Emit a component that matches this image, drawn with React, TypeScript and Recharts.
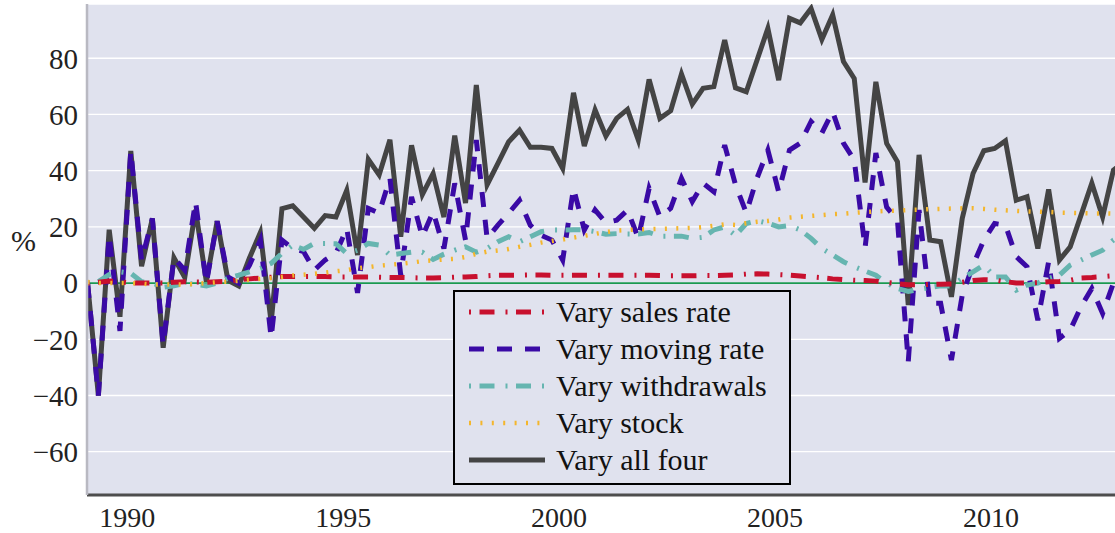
import { LineChart, Line, XAxis, YAxis, CartesianGrid, ReferenceLine, Legend } from 'recharts';

// quarterly, 1989Q1 .. 2013Q1 (plotted at mid-quarter)
const salesRate = [
  0, 0.3, 0.7, 0.5, 0, 0, 0, 0, 0.3, 0.5, 0.4, 0.3, 0.5, 0.6, 1.2, 1.5,
  1.8, 2.1, 2.3, 2.3, 2.3, 2.3, 2.3, 2.2, 2.2, 2.2, 2.2, 2.1, 2.0, 2.0, 1.9, 1.8,
  1.8, 1.9, 2.1, 2.2, 2.3, 2.6, 2.8, 2.8, 2.8, 2.9, 2.9, 2.8, 2.8, 2.8, 2.8, 2.8,
  2.8, 2.8, 2.8, 2.8, 2.8, 2.7, 2.6, 2.6, 2.6, 2.7, 2.7, 2.8, 2.9, 3.2, 3.3, 3.2,
  3.0, 2.8, 2.5, 2.2, 1.9, 1.5, 1.2, 1.0, 0.9, 0.7, 0.2, -0.2, -0.6, -0.6, -0.5, -0.4,
  -0.3, 0.3, 0.9, 1.2, 1.1, 0.5, 0, 0, 0.2, 0.5, 0.6, 1.0, 1.8, 2.0, 2.3, 2.6, 2.8,
];

const movingRate = [
  0, -40, 17, -17, 47, 8, 23, -22, 9, 4.6, 29, 0, 22, 2.2, 0, 6.4,
  15.3, -19.5, 15.3, 12.3, 11.2, 4.6, 8.2, 10.6, 19.5, -3.5, 26.6, 24.9, 37.3, 2.8, 30.7, 16.5,
  25.4, 12.3, 35.5, 15.3, 50.9, 15.9, 20.6, 24.9, 29.5, 20.6, 17, 15.3, 8.2, 33.7, 18.9, 26,
  21.5, 22.4, 26, 16, 33.7, 23.6, 26.6, 37.3, 29, 35.5, 32.5, 49.1, 35, 25, 37.4, 47.3,
  32.5, 47.3, 49.8, 57.5, 53.4, 61, 49.8, 43.8, 12.5, 46.3, 27, 22.4, -28, 26, -7.2, -7.2,
  -27.4, -4.3, 6.4, 15.3, 21.2, 20.6, 9.4, 5.8, -13.2, 7.6, -19.7, -16.7, -8.4, -1.9, -10.8, 0, 2,
];

const withdrawals = [
  0, 0.5, 3, 4, 3.5, 0.5, 0, -1.5, -1, 0, -0.5, -1, 0, 1.7, 2.8, 4,
  5.2, 7, 10.6, 13.5, 12, 14.1, 14.1, 14, 10.5, 11.7, 14.1, 13.5, 10, 10.5, 11, 11,
  8.4, 10.3, 11.7, 12.9, 11, 12.3, 14.7, 16.5, 14.7, 16.5, 18.3, 18.9, 18.9, 19, 18.9, 18.3,
  17.4, 17.6, 17.5, 17.5, 18, 16.7, 16.7, 16.7, 15.9, 16.3, 18.9, 20, 17, 21.2, 22.2, 21.3,
  20, 20.5, 18.9, 15.9, 12.3, 10, 7.6, 5.8, 4.3, 2.8, 0, -1.9, -3, -2.2, -1.6, -1,
  -1, 1.7, 4, 6.4, 2.2, 2.2, -2.5, -0.7, 0, 1.7, 2.8, 6.4, 8.2, 10, 11.7, 15.3, 17,
];

const stock = [
  0.4, 0, 0, 0, 0, -0.2, -0.5, -0.5, -0.5, -0.5, -0.3, 0, 0.3, 0.5, 0.8, 1.2,
  1.5, 1.8, 2.2, 2.7, 3.0, 3.3, 3.7, 4.2, 4.6, 5.3, 5.7, 6.2, 6.5, 6.9, 7.3, 7.8,
  8.1, 8.4, 8.6, 9.3, 10.4, 11.2, 11.6, 12.1, 12.9, 13.6, 14.4, 15, 15.5, 16.2, 16.8, 17.5,
  18.2, 18.7, 18.9, 19.1, 19.2, 19.3, 19.4, 19.5, 19.6, 19.9, 20.4, 20.9, 20.7, 21.3, 21.8, 22.1,
  22.6, 23.3, 23.6, 23.9, 24.2, 24.5, 24.7, 25, 25.3, 25.5, 25.7, 25.8, 26, 26.1, 26.3, 26.4,
  26.5, 26.6, 26.6, 26.4, 26.1, 25.9, 25.7, 25.5, 25.4, 25.3, 25.1, 25.0, 24.9, 24.8, 24.8, 24.7, 24.6,
];

const allFour = [
  0, -40, 19, -12, 47, 6, 23, -23, 9, 2, 26, 0.5, 22, 1, -1, 9,
  18, -14, 26.5, 27.5, 23.5, 19.5, 24, 23.5, 33, 10, 44, 38.5, 51, 16.5, 49, 31.5,
  39, 23.5, 52.5, 28.5, 70.5, 35, 42.6, 50.3, 54.4, 48.3, 48.3, 47.9, 40.8, 67.7, 48.8, 61.6,
  52.3, 58.6, 61.8, 50.9, 72.5, 58.6, 61.3, 74.4, 63.7, 69.3, 69.9, 86.5, 69.5, 68.1, 79.4, 90.6,
  72.2, 94.2, 92.6, 97.7, 86.7, 95.4, 78.8, 72.8, 35.8, 71.6, 49.7, 43.2, -7.8, 45.6, 15.3, 14.7,
  -4.9, 23, 39, 47.1, 47.9, 50.6, 29.5, 30.7, 12.3, 33.3, 8.2, 12.9, 24.2, 35.5, 23.6, 40.2, 43,
];

const yTicks = [-60, -40, -20, 0, 20, 40, 60, 80];
const xTicks = [1990, 1995, 2000, 2005, 2010];

const data = allFour.map((v, i) => ({
  t: 1989 + 1 / 12 + i / 4,
  sales: salesRate[i],
  moving: movingRate[i],
  withdrawals: withdrawals[i],
  stock: stock[i],
  all: v,
}));

const font = "'Liberation Serif', 'Times New Roman', serif";

const series = [
  { name: 'Vary sales rate', color: '#c8102e', dash: '2 8.5 15 11', width: 5 },
  { name: 'Vary moving rate', color: '#3a0aa5', dash: '15 13', width: 5 },
  { name: 'Vary withdrawals', color: '#66b5b0', dash: '2 8.5 15 11', width: 5 },
  { name: 'Vary stock', color: '#f4b62c', dash: '2 9.4', width: 4.5 },
  { name: 'Vary all four', color: '#444444', dash: undefined, width: 5 },
];

function LegendBox() {
  return (
    <svg width={338} height={195} style={{ display: 'block' }}>
      <rect x={1} y={1} width={336} height={193} fill="#e0e2ee" stroke="#000" strokeWidth={2} />
      {series.map((s, k) => {
        const y = 22 + k * 37;
        return (
          <g key={s.name}>
            <line x1={16} x2={92} y1={y} y2={y} stroke={s.color} strokeWidth={s.width} strokeDasharray={s.dash} />
            <text x={103} y={y + 10} fontFamily={font} fontSize={30} fill="#111">
              {s.name}
            </text>
          </g>
        );
      })}
    </svg>
  );
}

const fmt = (v: number) => String(v).replace('-', '\u2212');

export default function App() {
  return (
    <div style={{ width: 1115, height: 533, background: '#fff', fontFamily: font }}>
      <style>{'body{margin:0;overflow:hidden}'}</style>
      <LineChart width={1115} height={533} data={data} margin={{ top: 4, right: 0, bottom: 0, left: 0 }}>
        <CartesianGrid vertical={false} stroke="#ffffff" strokeWidth={1.3} fill="#e0e2ee" />
        <XAxis
          dataKey="t"
          type="number"
          domain={[1989.07, 2012.87]}
          allowDataOverflow
          ticks={xTicks}
          height={38}
          tickSize={0}
          tickMargin={12}
          axisLine={{ stroke: '#4d4d4d', strokeWidth: 3 }}
          tick={{ fontFamily: font, fontSize: 28, fill: '#222' }}
        />
        <YAxis
          type="number"
          domain={[-75.4, 99.3]}
          allowDataOverflow
          ticks={yTicks}
          width={87}
          tickSize={0}
          tickMargin={9}
          tickFormatter={fmt}
          axisLine={{ stroke: '#b9b9c2', strokeWidth: 2.5 }}
          tick={{ fontFamily: font, fontSize: 29, fill: '#222' }}
          label={{ value: '%', position: 'insideLeft', offset: 11, dy: -9, fontFamily: font, fontSize: 30, fill: '#222' }}
        />
        <ReferenceLine y={0} stroke="#1a9850" strokeWidth={1.6} />
        <Line dataKey="all" stroke={series[4].color} strokeWidth={5} dot={false} isAnimationActive={false} />
        <Line dataKey="moving" stroke={series[1].color} strokeWidth={5} strokeDasharray={series[1].dash} dot={false} isAnimationActive={false} />
        <Line dataKey="withdrawals" stroke={series[2].color} strokeWidth={5} strokeDasharray={series[2].dash} dot={false} isAnimationActive={false} />
        <Line dataKey="sales" stroke={series[0].color} strokeWidth={5} strokeDasharray={series[0].dash} dot={false} isAnimationActive={false} />
        <Line dataKey="stock" stroke={series[3].color} strokeWidth={4.5} strokeDasharray={series[3].dash} dot={false} isAnimationActive={false} />
        <Legend
          layout="horizontal"
          verticalAlign="middle"
          align="center"
          content={<LegendBox />}
          wrapperStyle={{ left: 453, top: 290, width: 338, height: 195 }}
        />
      </LineChart>
    </div>
  );
}
